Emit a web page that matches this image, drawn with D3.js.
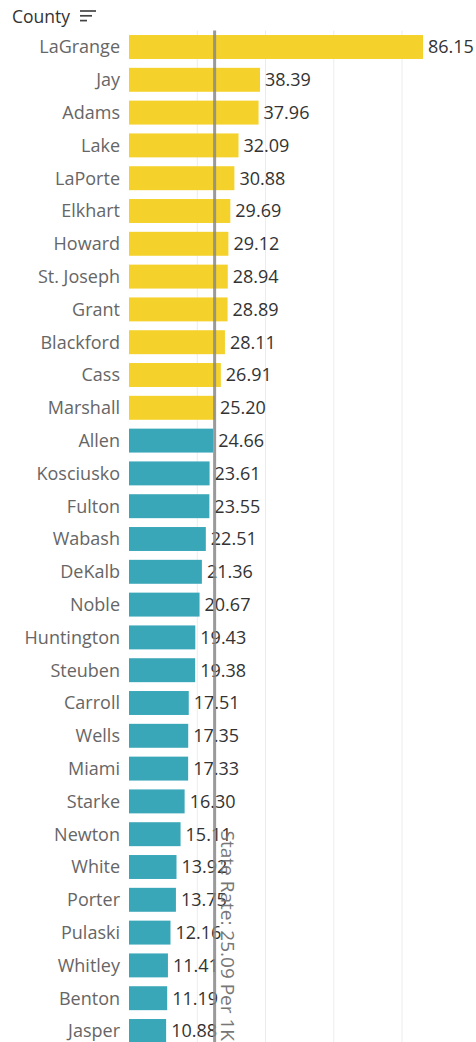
<!DOCTYPE html>
<html><head><meta charset="utf-8">
<script src="https://cdn.jsdelivr.net/npm/d3@7"></script>
<style>body{margin:0;background:#fff;} svg{display:block;}</style>
</head><body>
<svg id="c" width="476" height="1042"></svg>
<script>
const counties = ["LaGrange","Jay","Adams","Lake","LaPorte","Elkhart","Howard","St. Joseph","Grant","Blackford","Cass","Marshall","Allen","Kosciusko","Fulton","Wabash","DeKalb","Noble","Huntington","Steuben","Carroll","Wells","Miami","Starke","Newton","White","Porter","Pulaski","Whitley","Benton","Jasper"];
const rates = [86.15,38.39,37.96,32.09,30.88,29.69,29.12,28.94,28.89,28.11,26.91,25.20,24.66,23.61,23.55,22.51,21.36,20.67,19.43,19.38,17.51,17.35,17.33,16.30,15.11,13.92,13.75,12.16,11.41,11.19,10.88];
const stateRate = 25.09;
const gridTicks = [0,20,40,60,80];
const font = "'Open Sans', sans-serif";

const svg = d3.select("#c");
const mLeft = 129, mTop = 30.6, step = 32.8;
const x = d3.scaleLinear().domain([0, 86.15]).range([mLeft, 423]);
const n = counties.length;
const y = d3.scaleBand().domain(counties).range([mTop, mTop + n*step]).paddingInner(0.27).paddingOuter(0.135);

// header
svg.append("text").attr("x",12).attr("y",23).attr("font-family",font).attr("font-size",17.5).attr("fill","#333").text("County");
const ic = svg.append("g").attr("stroke","#444").attr("stroke-width",1.7);
[16,12,7].forEach((w,i)=>ic.append("line").attr("x1",80).attr("x2",80+w).attr("y1",11+i*4.8).attr("y2",11+i*4.8));

// grid
svg.append("g").selectAll("line").data(gridTicks.slice(1)).join("line")
  .attr("x1",d=>x(d)).attr("x2",d=>x(d)).attr("y1",mTop).attr("y2",1042)
  .attr("stroke","#ececec").attr("stroke-width",1);

// bars
svg.append("g").selectAll("rect").data(counties).join("rect")
  .attr("x",x(0)).attr("y",d=>y(d)).attr("height",y.bandwidth())
  .attr("width",(d,i)=>x(rates[i])-x(0))
  .attr("fill",(d,i)=>rates[i] > stateRate ? "#F4D22B" : "#3AA7B9");

// category labels
svg.append("g").selectAll("text").data(counties).join("text")
  .attr("x",120).attr("y",d=>y(d)+y.bandwidth()/2).attr("dy","0.35em")
  .attr("text-anchor","end").attr("font-family",font).attr("font-size",18).attr("fill","#666").text(d=>d);

// value labels
svg.append("g").selectAll("text").data(counties).join("text")
  .attr("x",(d,i)=>x(rates[i])+5).attr("y",d=>y(d)+y.bandwidth()/2).attr("dy","0.35em")
  .attr("font-family",font).attr("font-size",18).attr("fill","#333").text((d,i)=>rates[i].toFixed(2));

// reference line
svg.append("line").attr("x1",x(stateRate)).attr("x2",x(stateRate)).attr("y1",mTop).attr("y2",1042)
  .attr("stroke","#888").attr("stroke-opacity",0.85).attr("stroke-width",3);
svg.append("text").attr("transform",`translate(${x(stateRate)+4},1041) rotate(90)`)
  .attr("text-anchor","end").attr("dy","-0.12em").attr("font-family",font).attr("font-size",19).attr("fill","#777")
  .text("State Rate: " + stateRate.toFixed(2) + " Per 1K");
</script>
</body></html>
